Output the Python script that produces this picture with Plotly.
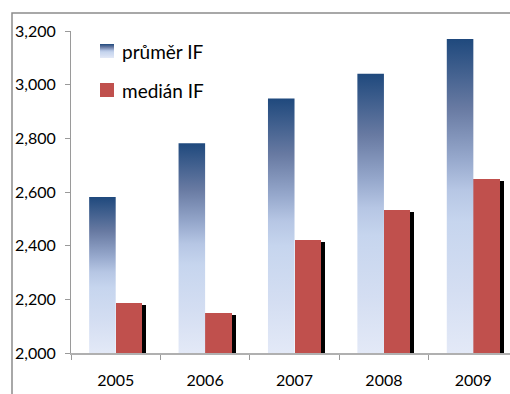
import plotly.graph_objects as go

# Impact factor summary per year
years = ["2005", "2006", "2007", "2008", "2009"]
mean_if = [2581, 2782, 2948, 3041, 3170]     # průměr IF
median_if = [2187, 2150, 2422, 2534, 2649]   # medián IF
y_ticks = [2000, 2200, 2400, 2600, 2800, 3000, 3200]

series_names = ["průměr IF", "medián IF"]

# style
FONT = "Lato"
RED = "#C0504D"
BLUE_SCALE = [
    [0.00, "rgb(227,233,247)"],
    [0.20, "rgb(212,222,242)"],
    [0.42, "rgb(198,213,238)"],
    [0.52, "rgb(182,198,228)"],
    [0.62, "rgb(150,168,204)"],
    [0.78, "rgb(104,122,162)"],
    [1.00, "rgb(31,73,125)"],
]
BAR_W = 0.297
Y_MIN, Y_MAX = y_ticks[0], y_ticks[-1]

# plot-area geometry in pixels
W, H = 510, 394
ML, MT, MB = 71, 31, 41
PW, PH = W - ML, H - MT - MB
X_RANGE = [-0.5, 4.41]
px_per_x = PW / (X_RANGE[1] - X_RANGE[0])
px_per_y = PH / (Y_MAX - Y_MIN)

fig = go.Figure()

# mean bars: gradient-filled rectangles, left half of each category
for i, v in enumerate(mean_if):
    fig.add_trace(go.Scatter(
        x=[i - BAR_W, i, i, i - BAR_W, i - BAR_W],
        y=[Y_MIN, Y_MIN, v, v, Y_MIN],
        fill="toself", mode="lines", line=dict(width=0),
        fillgradient=dict(type="vertical", colorscale=BLUE_SCALE,
                          start=Y_MIN, stop=v),
        hoverinfo="skip", showlegend=False, name=series_names[0],
    ))

# drop shadow behind median bars (offset right and down by a few pixels)
shadow_dx = 4 / px_per_x
shadow_dy = 2 / px_per_y
fig.add_trace(go.Bar(
    x=list(range(len(years))), y=[v - shadow_dy for v in median_if],
    width=BAR_W, offset=shadow_dx, marker=dict(color="#000000", line=dict(width=0)),
    hoverinfo="skip", showlegend=False,
))

# median bars, right half of each category
fig.add_trace(go.Bar(
    x=list(range(len(years))), y=median_if,
    width=BAR_W, offset=0, marker=dict(color=RED, line=dict(width=0)),
    name=series_names[1], showlegend=False,
))

# legend swatches on a pixel-based overlay axis
sq = 14
legend_x = 100
legend_rows = [44, 83]
for k, top in enumerate(legend_rows):
    xs = [legend_x, legend_x + sq, legend_x + sq, legend_x, legend_x]
    ys = [top + sq, top + sq, top, top, top + sq]
    if k == 0:
        fig.add_trace(go.Scatter(
            x=xs, y=ys, xaxis="x2", yaxis="y2", fill="toself", mode="lines",
            line=dict(width=0),
            fillgradient=dict(type="vertical", colorscale=BLUE_SCALE,
                              start=top + sq, stop=top),
            hoverinfo="skip", showlegend=False,
        ))
    else:
        fig.add_trace(go.Scatter(
            x=xs, y=ys, xaxis="x2", yaxis="y2", fill="toself", mode="lines",
            line=dict(width=0), fillcolor=RED,
            hoverinfo="skip", showlegend=False,
        ))
    fig.add_annotation(
        x=legend_x + sq + 6, y=top + sq / 2, xref="x2", yref="y2",
        text=series_names[k], showarrow=False, xanchor="left", yanchor="middle",
        font=dict(family=FONT, size=19, color="#000000"),
    )

# outer chart frame
fig.add_shape(
    type="rect", xref="paper", yref="paper",
    x0=(12 - ML) / PW, x1=1.3, y0=-0.5, y1=1 + (MT - 13) / PH,
    line=dict(color="#8c8c8c", width=1.5), fillcolor="rgba(0,0,0,0)", layer="below",
)

AX = "#9a9a9a"
fig.update_layout(
    width=W, height=H,
    margin=dict(l=ML, r=0, t=MT, b=MB, pad=0),
    paper_bgcolor="white", plot_bgcolor="white",
    font=dict(family=FONT, size=16, color="#000000"),
    showlegend=False,
    xaxis=dict(
        range=X_RANGE, tickmode="array", tickvals=list(range(len(years))),
        ticktext=years, ticks="", showgrid=False, zeroline=False,
        showline=True, linecolor="#b0b0b0", linewidth=1.5,
        minor=dict(tickmode="array", tickvals=[i - 0.5 for i in range(len(years) + 1)],
                   ticks="outside", ticklen=5, tickcolor=AX, tickwidth=1, showgrid=False),
        ticklabelstandoff=12, fixedrange=True,
    ),
    yaxis=dict(
        range=[Y_MIN, Y_MAX], tickmode="array", tickvals=y_ticks,
        tickformat=",", ticks="outside", ticklen=5, tickcolor=AX,
        showgrid=False, zeroline=False, showline=True, linecolor=AX, linewidth=1,
        ticklabelstandoff=6, fixedrange=True,
    ),
    xaxis2=dict(range=[ML, W], overlaying="x", visible=False, fixedrange=True),
    yaxis2=dict(range=[H - MB, MT], overlaying="y", visible=False, fixedrange=True),
    bargap=0,
)

fig.write_html("out.html")
